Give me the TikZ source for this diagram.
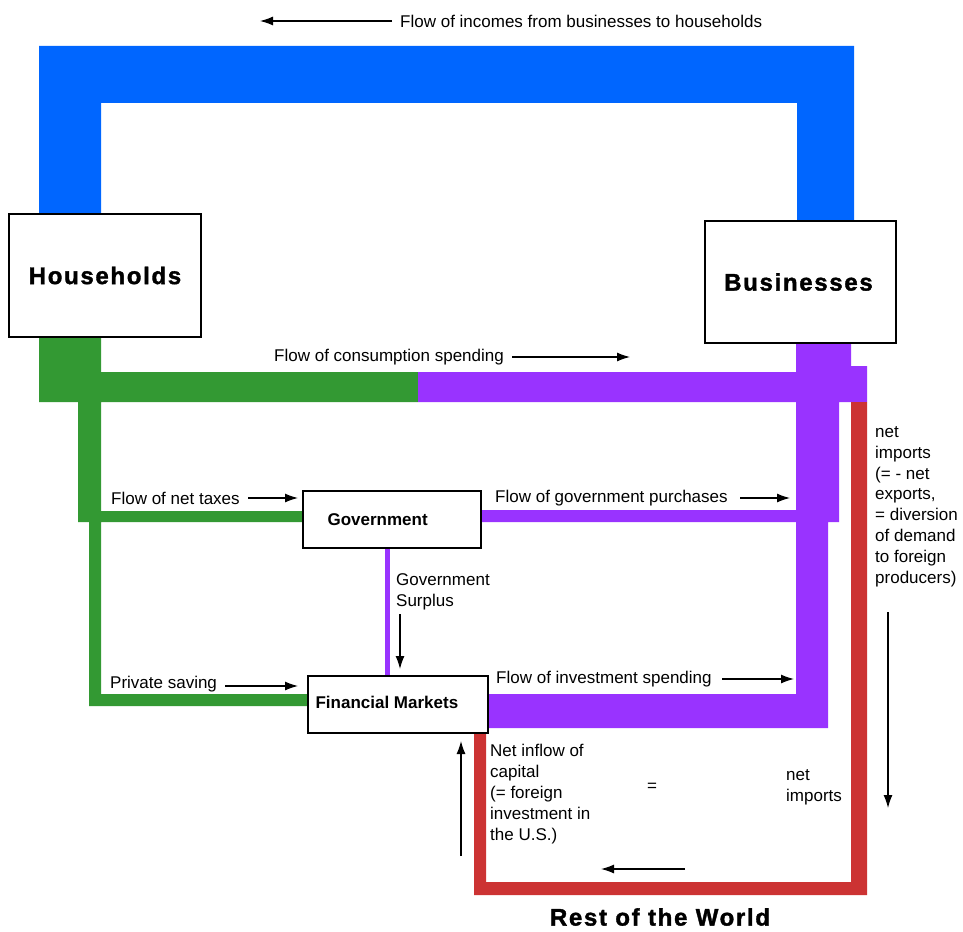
\documentclass[tikz,border=0pt]{standalone}
\usepackage{fontspec}
\setmainfont{Liberation Sans}
\newfontfamily\widefont[LetterSpace=7, BoldFeatures={FakeBold=1.5}]{Liberation Sans}
\usepackage{tikz}
\usetikzlibrary{arrows.meta}
\definecolor{incblue}{RGB}{0,102,255}
\definecolor{hhgreen}{RGB}{51,153,51}
\definecolor{spendpurple}{RGB}{153,51,255}
\definecolor{worldred}{RGB}{204,51,51}

\begin{document}
\begin{tikzpicture}[x=1pt, y=-1pt,
	box/.style={draw, line width=1.3pt, fill=white, inner sep=0pt},
	txt/.style={font=\fontsize{17}{20.8}\selectfont, inner sep=0pt, align=left},
	bigname/.style={font=\fontsize{24}{28}\selectfont\widefont\bfseries, inner sep=0pt},
	arr/.style={-{Latex[length=13pt, width=9pt]}, line width=1.2pt}]
	\useasboundingbox (0, 0) rectangle (963, 931);
	\fill[incblue] (39, 46) -- (854, 46) -- (854, 221) -- (797, 221) -- (797, 103) -- (101, 103) -- (101, 214) -- (39, 214) -- cycle;
	\fill[hhgreen] (39, 337) -- (101, 337) -- (101, 372) -- (418, 372) -- (418, 402) -- (101, 402) -- (101, 511) -- (303, 511) -- (303, 522) -- (101, 522) -- (101, 694) -- (308, 694) -- (308, 706) -- (89, 706) -- (89, 522) -- (78, 522) -- (78, 402) -- (39, 402) -- cycle;
	\fill[spendpurple] (796, 343) -- (851, 343) -- (851, 366) -- (867, 366) -- (867, 402) -- (839, 402) -- (839, 522) -- (828, 522) -- (828, 728) -- (488, 728) -- (488, 694) -- (796, 694) -- (796, 522) -- (481, 522) -- (481, 510) -- (796, 510) -- (796, 402) -- (418, 402) -- (418, 372) -- (796, 372) -- cycle;
	\fill[spendpurple] (385, 548) rectangle (390, 676);
	\fill[worldred] (851, 402) -- (867, 402) -- (867, 895) -- (474, 895) -- (474, 733) -- (486, 733) -- (486, 882) -- (851, 882) -- cycle;

	\node[box, minimum width=192pt, minimum height=123pt] (hh) at (105, 275.5) {};
	\node[bigname] at (hh.center) {Households};
	\node[box, minimum width=191pt, minimum height=122pt] (bus) at (800.5, 282) {};
	\node[bigname] at ([xshift=-2pt]bus.center) {Businesses};
	\node[box, minimum width=178pt, minimum height=57pt] (gov) at (392, 519.5) {};
	\node[txt, font=\fontsize{17}{20.8}\selectfont\bfseries, anchor=west] at ([xshift=25pt]gov.west) {Government};
	\node[box, minimum width=180pt, minimum height=57pt] (fm) at (398, 704.5) {};
	\node[txt, font=\fontsize{17}{20.8}\selectfont\bfseries, anchor=west] at ([xshift=8pt, yshift=2pt]fm.west) {Financial Markets};

	\node[txt, anchor=west] (inc) at (400, 21) {Flow of incomes from businesses to households};
	\draw[arr] ([xshift=-8pt]inc.west) -- (260, 21);
	\node[txt, anchor=west] (cons) at (274, 357) {Flow of consumption spending};
	\draw[arr] (512, 357) -- (630, 357);
	\node[txt, anchor=west] (tax) at (111, 498) {Flow of net taxes};
	\draw[arr] (248, 498) -- (298, 498);
	\node[txt, anchor=west] (pur) at (495, 498) {Flow of government purchases};
	\draw[arr] (740, 498) -- (790, 498);
	\node[txt, anchor=west] (surp) at (396, 592) {Government\\Surplus};
	\draw[arr] (400, 614) -- (400, 669);
	\node[txt, anchor=west] (sav) at (110, 684) {Private saving};
	\draw[arr] (225, 686) -- (298, 686);
	\node[txt, anchor=west] (inv) at (496, 679) {Flow of investment spending};
	\draw[arr] (722, 679) -- (794, 679);
	\node[txt, anchor=west] (cap) at (490, 794) {Net inflow of\\capital\\(= foreign\\investment in\\the U.S.)};
	\draw[arr] (461, 856) -- (461, 741);
	\node[txt] (eq) at (652, 787) {=};
	\node[txt, anchor=west] (nimp) at (786, 787) {net\\imports};
	\draw[arr] (685, 869) -- (601, 869);
	\node[txt, anchor=west] (nimpx) at (875, 506.5) {net\\imports\\(= - net\\exports,\\= diversion\\of demand\\to foreign\\producers)};
	\draw[arr] (888, 612) -- (888, 808);
	\node[bigname] (row) at (660, 917) {Rest of the World};
\end{tikzpicture}
\end{document}
